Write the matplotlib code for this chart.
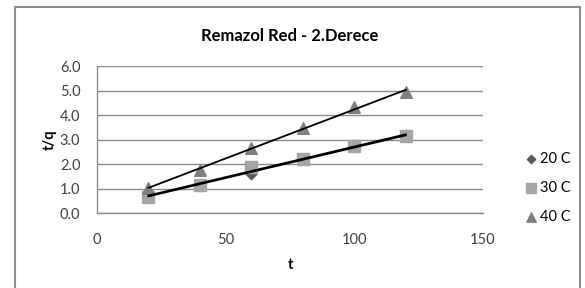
import numpy as np
import matplotlib.pyplot as plt
from matplotlib.patches import Rectangle

plt.rcParams['font.family'] = ['Lato', 'DejaVu Sans']

t = [20, 40, 60, 80, 100, 120]
y20 = [0.80, 1.10, 1.60, 2.20, 2.70, 3.20]
y30 = [0.68, 1.15, 1.90, 2.20, 2.75, 3.15]
y40 = [1.05, 1.77, 2.65, 3.47, 4.31, 4.95]
labels = ['20 C', '30 C', '40 C']
title = 'Remazol Red - 2.Derece'

fig = plt.figure(figsize=(5.85, 2.88), dpi=100)
fig.patches.append(Rectangle((15/585, -0.1), 565/585, 1.1 - 7/288, transform=fig.transFigure,
                             fill=False, edgecolor='#8c8c8c', linewidth=1.5))
ax = fig.add_axes([97/585, 1 - 213.3/288, (483 - 97)/585, (213.3 - 66)/288])

grey = '#a6a6a6'
ax.scatter(t, y20, marker='D', s=28, color='#595959', label=labels[0], zorder=3)
ax.scatter(t, y30, marker='s', s=70, color=grey, label=labels[1], zorder=3)
ax.scatter(t, y40, marker='^', s=70, color='#7f7f7f', label=labels[2], zorder=3)

tx = np.array([min(t), max(t)])
for ys in (y20, y30, y40):
    k, b = np.polyfit(t, ys, 1)
    ax.plot(tx, k * tx + b, color='black', linewidth=1.3, zorder=4)

ax.set_xlim(0, 150)
ax.set_ylim(0, 6)
ax.set_xticks([0, 50, 100, 150])
ax.set_yticks(np.arange(0, 6.01, 1.0))
ax.set_yticklabels([f'{v:.1f}' for v in np.arange(0, 6.01, 1.0)])
ax.grid(axis='y', color='#8c8c8c', linewidth=1)
ax.set_axisbelow(True)
for s in ('top', 'right'):
    ax.spines[s].set_visible(False)
for s in ('left', 'bottom'):
    ax.spines[s].set_color('#8c8c8c')
    ax.spines[s].set_linewidth(1)
ax.tick_params(length=0, labelsize=10.5, colors='#404040')
ax.tick_params(axis='x', pad=14)
ax.tick_params(axis='y', pad=12)
ax.set_xlabel('t', fontsize=10.5, fontweight='bold', labelpad=8)
ax.yaxis.set_label_coords(-105/386 + 0.0 + (105 - 40)/386 * 0, 0.5)
ax.set_ylabel('t/q', fontsize=10.5, fontweight='bold')
ax.yaxis.set_label_coords((57 - 97) / 386, 0.5)
fig.text(0.5 * (97 + 483) / 585 + 0.0, 1 - 36/288, title, ha='center', va='center',
         fontsize=12, fontweight='bold')
fig.legend(*ax.get_legend_handles_labels(), loc='center left',
           bbox_to_anchor=(524/585, 1 - 188/288), frameon=False, fontsize=10.5,
           handletextpad=0.1, labelspacing=1.05, borderaxespad=0, borderpad=0,
           markerscale=0.8, handlelength=1.0)

fig.savefig('out.png', dpi=100)
